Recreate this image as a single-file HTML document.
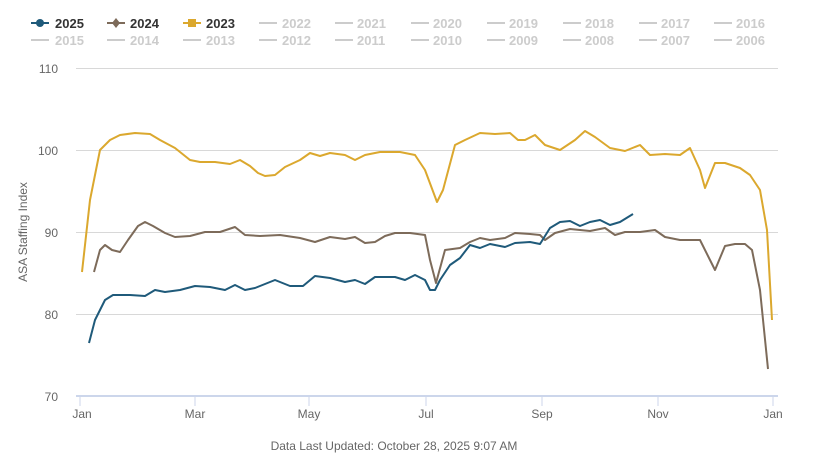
<!DOCTYPE html>
<html><head><meta charset="utf-8"><style>
body{margin:0;background:#fff;width:826px;height:474px;overflow:hidden}
svg{display:block;font-family:"Liberation Sans",sans-serif}
</style></head><body>
<svg width="826" height="474" viewBox="0 0 826 474">
<g font-size="13" font-weight="bold">
<g fill="#1f5a7a"><line x1="31" y1="23" x2="49" y2="23" stroke="#1f5a7a" stroke-width="2"/><circle cx="40" cy="23" r="4"/></g><text x="55" y="28" fill="#333">2025</text>
<g><line x1="107" y1="23" x2="125" y2="23" stroke="#7d6b5a" stroke-width="2"/><path d="M116 18 L120 23 116 28 112 23Z" fill="#7d6b5a"/></g><text x="130" y="28" fill="#333">2024</text>
<g><line x1="183" y1="23" x2="201" y2="23" stroke="#dba82e" stroke-width="2"/><rect x="188" y="19" width="8" height="8" fill="#dba82e"/></g><text x="206" y="28" fill="#333">2023</text>
<g fill="#ccc">
<text x="282" y="28">2022</text><text x="357" y="28">2021</text><text x="433" y="28">2020</text><text x="509" y="28">2019</text><text x="585" y="28">2018</text><text x="661" y="28">2017</text><text x="736" y="28">2016</text>
<text x="55" y="45">2015</text><text x="130" y="45">2014</text><text x="206" y="45">2013</text><text x="282" y="45">2012</text><text x="357" y="45">2011</text><text x="433" y="45">2010</text><text x="509" y="45">2009</text><text x="585" y="45">2008</text><text x="661" y="45">2007</text><text x="736" y="45">2006</text>
</g>
<g stroke="#ccc" stroke-width="2">
<line x1="259" y1="23" x2="277" y2="23"/><line x1="335" y1="23" x2="353" y2="23"/><line x1="411" y1="23" x2="429" y2="23"/><line x1="487" y1="23" x2="505" y2="23"/><line x1="563" y1="23" x2="581" y2="23"/><line x1="639" y1="23" x2="657" y2="23"/><line x1="714" y1="23" x2="732" y2="23"/>
<line x1="31" y1="40" x2="49" y2="40"/><line x1="107" y1="40" x2="125" y2="40"/><line x1="183" y1="40" x2="201" y2="40"/><line x1="259" y1="40" x2="277" y2="40"/><line x1="335" y1="40" x2="353" y2="40"/><line x1="411" y1="40" x2="429" y2="40"/><line x1="487" y1="40" x2="505" y2="40"/><line x1="563" y1="40" x2="581" y2="40"/><line x1="639" y1="40" x2="657" y2="40"/><line x1="714" y1="40" x2="732" y2="40"/>
</g></g>
<g stroke="#d8d8d8" stroke-width="1">
<line x1="76" y1="68.5" x2="778" y2="68.5"/><line x1="76" y1="150.5" x2="778" y2="150.5"/><line x1="76" y1="232.5" x2="778" y2="232.5"/><line x1="76" y1="314.5" x2="778" y2="314.5"/>
</g>
<line x1="76" y1="396" x2="778" y2="396" stroke="#ccd6eb" stroke-width="2"/>
<g stroke="#ccd6eb"><line x1="80" y1="396" x2="80" y2="406"/><line x1="195" y1="396" x2="195" y2="406"/><line x1="309" y1="396" x2="309" y2="406"/><line x1="426" y1="396" x2="426" y2="406"/><line x1="542" y1="396" x2="542" y2="406"/><line x1="658" y1="396" x2="658" y2="406"/><line x1="773" y1="396" x2="773" y2="406"/></g>
<g font-size="12" fill="#666" text-anchor="end"><text x="58" y="73">110</text><text x="58" y="155">100</text><text x="58" y="237">90</text><text x="58" y="319">80</text><text x="58" y="401">70</text></g>
<g font-size="12" fill="#666" text-anchor="middle"><text x="82" y="418">Jan</text><text x="195" y="418">Mar</text><text x="309" y="418">May</text><text x="426" y="418">Jul</text><text x="542" y="418">Sep</text><text x="658" y="418">Nov</text><text x="773" y="418">Jan</text></g>
<text transform="translate(27,232) rotate(-90)" font-size="12" fill="#666" text-anchor="middle">ASA Staffing Index</text>
<text x="394" y="450" font-size="12" fill="#666" text-anchor="middle">Data Last Updated: October 28, 2025 9:07 AM</text>
<g fill="none" stroke-width="2" stroke-linejoin="round">
<polyline stroke="#dba82e" points="82,272 90,200 100,150 110,140 120,135 135,133 150,134 160,140 175,148 190,160 200,162 215,162 230,164 240,160 250,166 258,173 265,176 275,175 285,167 300,160 310,153 320,156 330,153 345,155 355,160 365,155 380,152 400,152 415,155 425,170 437,202 443,190 455,145 465,140 480,133 495,134 510,133 518,140 525,140 535,135 545,145 560,150 575,140 585,131 595,137 610,148 625,151 640,145 650,155 665,154 680,155 690,148 700,170 705,188 715,163 725,163 740,168 750,175 760,190 767,230 772,320"/>
<polyline stroke="#7d6b5a" points="94,272 100,250 105,245 112,250 120,252 128,240 138,226 145,222 153,226 165,233 175,237 190,236 205,232 220,232 235,227 245,235 260,236 280,235 300,238 315,242 330,237 345,239 355,237 365,243 375,242 385,236 395,233 410,233 425,235 430,260 436,283 445,250 460,248 470,242 480,238 490,240 505,238 515,233 530,234 540,235 545,240 555,233 570,229 580,230 590,231 605,228 615,235 625,232 640,232 655,230 665,237 680,240 700,240 710,260 715,270 725,246 735,244 745,244 752,250 760,290 768,369"/>
<polyline stroke="#1f5a7a" points="89,343 95,320 105,300 113,295 130,295 145,296 155,290 165,292 180,290 195,286 210,287 225,290 235,285 245,290 255,288 265,284 275,280 290,286 303,286 315,276 330,278 345,282 355,280 365,284 375,277 395,277 405,280 415,275 425,280 430,290 435,290 440,280 450,265 460,258 470,245 480,248 490,244 505,247 515,243 530,242 540,244 550,228 560,222 570,221 580,226 590,222 600,220 610,225 620,222 633,214"/>
</g>
</svg>
</body></html>
